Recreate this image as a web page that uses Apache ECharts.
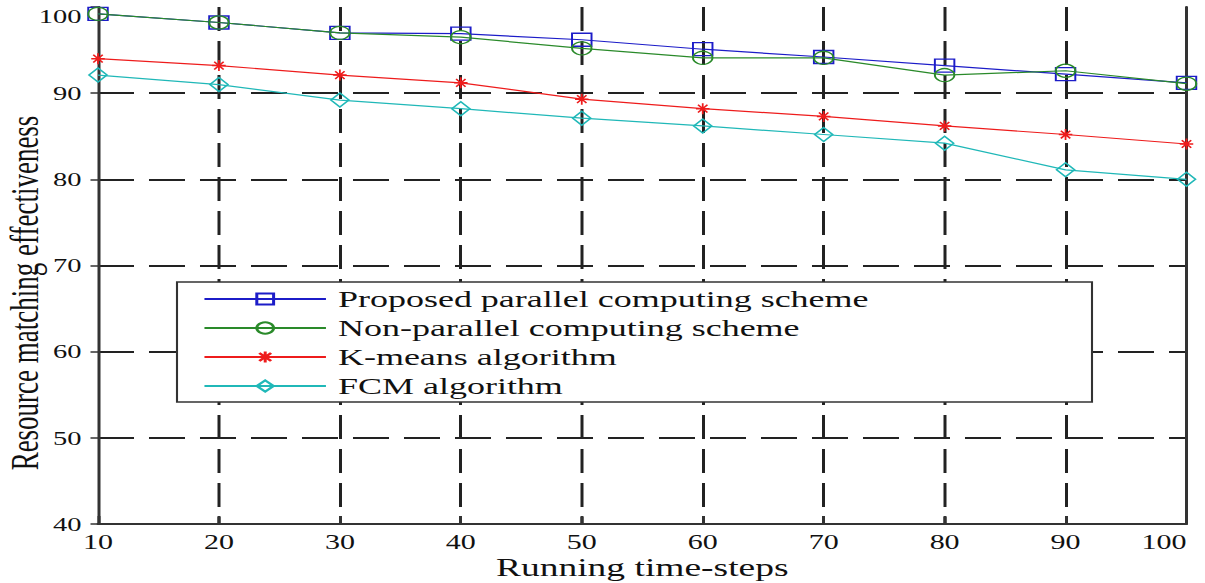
<!DOCTYPE html>
<html>
<head>
<meta charset="utf-8">
<script src="https://cdn.jsdelivr.net/npm/echarts@6/dist/echarts.min.js"></script>
<style>
html,body{margin:0;padding:0;background:#fff;overflow:hidden;}
#wrap{width:1205px;height:583px;overflow:hidden;position:relative;}
#chart{width:803.33px;height:583px;transform:scaleX(1.5);transform-origin:0 0;}
</style>
</head>
<body>
<div id="wrap"><div id="chart"></div></div>
<script>
const steps = [10, 20, 30, 40, 50, 60, 70, 80, 90, 100];
const seriesNames = ['Proposed parallel computing scheme', 'Non-parallel computing scheme', 'K-means algorithm', 'FCM algorithm'];
const proposed = [99.2, 98.2, 97.0, 96.9, 96.2, 95.1, 94.2, 93.2, 92.2, 91.2];
const nonParallel = [99.2, 98.2, 97.0, 96.5, 95.2, 94.1, 94.1, 92.1, 92.6, 91.1];
const kmeans = [94.0, 93.2, 92.1, 91.2, 89.3, 88.2, 87.3, 86.2, 85.2, 84.1];
const fcm = [92.1, 91.0, 89.2, 88.2, 87.1, 86.2, 85.2, 84.2, 81.1, 80.0];
const yTicks = [40, 50, 60, 70, 80, 90, 100];

const colors = ['#1c1cc8', '#2a8a2a', '#ee1c1c', '#20b8b8'];
const symbols = ['rect', 'circle', 'path://M0,5L10,5M5,0L5,10M1.5,1.5L8.5,8.5M8.5,1.5L1.5,8.5', 'diamond'];
const symbolSizes = [[13, 13], 13, [9, 11], [12, 14]];
const allData = [proposed, nonParallel, kmeans, fcm];

const FONT = '"Liberation Serif", "Times New Roman", serif';

const series = allData.map((vals, i) => ({
  name: seriesNames[i],
  type: 'line',
  data: steps.map((x, j) => [x, vals[j]]),
  symbol: symbols[i],
  symbolSize: symbolSizes[i],
  showAllSymbol: true,
  lineStyle: { color: colors[i], width: 1.2 },
  itemStyle: { color: 'transparent', borderColor: colors[i], borderWidth: 1.3 },
  emphasis: { disabled: true },
  animation: false
}));

const chart = echarts.init(document.getElementById('chart'), null, { renderer: 'svg' });
chart.setOption({
  animation: false,
  color: colors,
  grid: { left: 65.33, right: 12, top: 7, bottom: 59, containLabel: false, outerBoundsMode: 'none' },
  legend: {
    data: seriesNames,
    orient: 'vertical',
    left: 135.3,
    top: 286,
    padding: 0,
    itemWidth: 81,
    itemHeight: 14,
    itemGap: 3,
    textStyle: { fontFamily: FONT, fontSize: 24, lineHeight: 26, color: '#111', padding: [0, 0, 0, 3] },
    selectedMode: false
  },
  graphic: [{
    type: 'rect',
    z: 3,
    shape: { x: 118, y: 282, width: 610, height: 120 },
    style: { fill: '#fff', stroke: '#333', lineWidth: 1.4 }
  }],
  xAxis: {
    type: 'value',
    min: 10, max: 100, interval: 10,
    name: 'Running time-steps',
    nameLocation: 'middle',
    nameGap: 31,
    nameMoveOverlap: false,
    nameTextStyle: { fontFamily: FONT, fontSize: 25, color: '#111' },
    axisLine: { show: true, onZero: false, lineStyle: { color: '#333', width: 2 } },
    axisTick: { show: true, inside: true, length: 8, lineStyle: { color: '#333', width: 2 } },
    axisLabel: { fontFamily: FONT, fontSize: 20, color: '#111', margin: 8, alignMaxLabel: 'right' },
    splitLine: { show: true, showMinLine: false, showMaxLine: false, lineStyle: { color: '#222', width: 2, type: [24, 10] } }
  },
  yAxis: [{
    type: 'value',
    min: 40, max: 100, interval: 10,
    name: 'Resource matching effectiveness',
    nameLocation: 'middle',
    nameGap: 36,
    nameMoveOverlap: false,
    nameRotate: 90,
    nameTextStyle: { fontFamily: FONT, fontSize: 27, color: '#111', padding: [0, 55, 0, 0] },
    axisLine: { show: true, lineStyle: { color: '#333', width: 2 } },
    axisTick: { show: true, inside: false, length: 5, lineStyle: { color: '#333', width: 1.5 } },
    axisLabel: { fontFamily: FONT, fontSize: 19, color: '#111', margin: 11,
      customValues: yTicks, verticalAlignMaxLabel: 'top' },
    splitLine: { show: true, showMinLine: false, showMaxLine: false, lineStyle: { color: '#222', width: 2, type: [24, 10] } }
  }, {
    type: 'value',
    position: 'right',
    min: 40, max: 100, interval: 10,
    axisLine: { show: true, lineStyle: { color: '#333', width: 2 } },
    axisTick: { show: false },
    axisLabel: { show: false },
    splitLine: { show: false }
  }],
  series: series
});
</script>
</body>
</html>
